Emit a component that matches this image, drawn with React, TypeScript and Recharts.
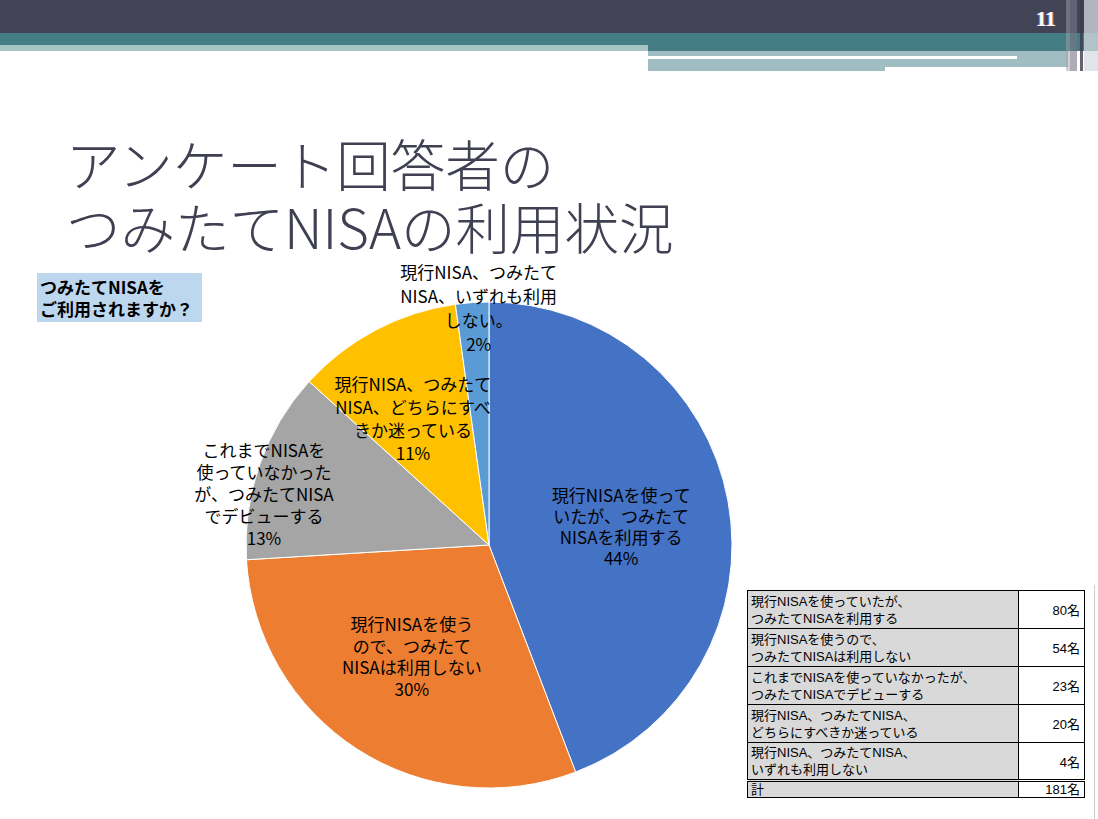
import React from 'react';
import { PieChart, Pie, Cell } from 'recharts';

// survey answers (people)
const categories = [
  '現行NISAを使っていたが、つみたてNISAを利用する',
  '現行NISAを使うので、つみたてNISAは利用しない',
  'これまでNISAを使っていなかったが、つみたてNISAでデビューする',
  '現行NISA、つみたてNISA、どちらにすべきか迷っている',
  '現行NISA、つみたてNISA、いずれも利用しない',
];
const counts = [80, 54, 23, 20, 4];

// labels drawn inside the pie
const sliceLabels = [
  ['現行NISAを使って', 'いたが、つみたて', 'NISAを利用する'],
  ['現行NISAを使う', 'ので、つみたて', 'NISAは利用しない'],
  ['これまでNISAを', '使っていなかった', 'が、つみたてNISA', 'でデビューする'],
  ['現行NISA、つみたて', 'NISA、どちらにすべ', 'きか迷っている'],
  ['現行NISA、つみたて', 'NISA、いずれも利用', 'しない。'],
];

// table rows (two lines each)
const tableRows = [
  ['現行NISAを使っていたが、', 'つみたてNISAを利用する'],
  ['現行NISAを使うので、', 'つみたてNISAは利用しない'],
  ['これまでNISAを使っていなかったが、', 'つみたてNISAでデビューする'],
  ['現行NISA、つみたてNISA、', 'どちらにすべきか迷っている'],
  ['現行NISA、つみたてNISA、', 'いずれも利用しない'],
];

const colors = ['#4472C4', '#ED7D31', '#A5A5A5', '#FFC000', '#5B9BD5'];
// label placement: fraction of radius, angle nudge (deg), line height
const labelPos = [
  { f: 0.55, da: -2, lh: 21 },
  { f: 0.555, da: -2.1, lh: 21.7 },
  { f: 0.95, da: 6.5, lh: 22 },
  { f: 0.61, da: 3, lh: 23 },
  { f: 0.98, da: -1.5, lh: 24 },
];

const data = categories.map((name, i) => ({ name, value: counts[i] }));
const total = counts.reduce((a, b) => a + b, 0);
const RAD = Math.PI / 180;
const jp = '"Noto Sans CJK JP", "Noto Sans", sans-serif';

const renderLabel = (props: any) => {
  const { cx, cy, midAngle, outerRadius, index, value } = props;
  const p = labelPos[index];
  const a = (midAngle + p.da) * RAD;
  const r = outerRadius * p.f;
  const x = cx + r * Math.cos(a);
  const y = cy - r * Math.sin(a);
  const lines = [...sliceLabels[index], `${Math.round((value / total) * 100)}%`];
  const top = y - ((lines.length - 1) * p.lh) / 2;
  return (
    <text x={x} y={top} textAnchor="middle" dominantBaseline="central" fontSize={17} fill="#000" fontFamily={jp}>
      {lines.map((l, k) => (
        <tspan key={k} x={x} y={top + k * p.lh}>
          {l}
        </tspan>
      ))}
    </text>
  );
};

const abs = (s: React.CSSProperties): React.CSSProperties => ({ position: 'absolute', ...s });

export default function App() {
  return (
    <div style={abs({ left: 0, top: 0, width: 1098, height: 819, background: '#fff', overflow: 'hidden', fontFamily: jp })}>
      {/* header bands */}
      <div style={abs({ left: 0, top: 0, width: 1098, height: 33, background: '#424456' })} />
      <div style={abs({ left: 0, top: 33, width: 1098, height: 12, background: '#447E84' })} />
      <div style={abs({ left: 648, top: 45, width: 450, height: 6, background: '#447E84' })} />
      <div style={abs({ left: 0, top: 45, width: 648, height: 6, background: '#A6C3C6' })} />
      <div style={abs({ left: 648, top: 51, width: 420, height: 20, background: '#A0BEC2' })} />
      <div style={abs({ left: 648, top: 56, width: 369, height: 3, background: '#fff' })} />
      <div style={abs({ left: 885, top: 67, width: 191, height: 4, background: '#fff' })} />
      <div style={abs({ left: 1066, top: 0, width: 4, height: 71, background: 'rgba(160,160,170,0.5)' })} />
      <div style={abs({ left: 1070, top: 0, width: 7, height: 71, background: 'rgba(120,118,135,0.6)' })} />
      <div style={abs({ left: 1080, top: 0, width: 3, height: 71, background: 'rgba(60,60,75,0.8)' })} />
      <div style={abs({ left: 1084, top: 0, width: 14, height: 71, background: 'rgba(215,220,225,0.75)' })} />
      <div style={abs({ left: 1036, top: 7, fontFamily: '"Liberation Serif", serif', fontWeight: 700, fontSize: 21, color: '#fff', textShadow: '1px 0 0 #c66, -1px 0 0 #68c' })}>11</div>

      {/* title */}
      <div style={abs({ left: 66, top: 131, fontSize: 54.5, lineHeight: '63px', color: '#3F4052', fontWeight: 300, whiteSpace: 'nowrap' })}>
        アンケート回答者の
        <br />
        つみたてNISAの利用状況
      </div>

      {/* question box */}
      <div style={abs({ left: 37, top: 273, width: 165, height: 49, background: '#BDD7EE', fontSize: 17, fontWeight: 700, lineHeight: '22px', padding: '3px 0 0 3px', boxSizing: 'border-box', color: '#000', whiteSpace: 'nowrap' })}>
        つみたてNISAを
        <br />
        ご利用されますか？
      </div>

      {/* pie */}
      <div style={abs({ left: 0, top: 0 })}>
        <PieChart width={1098} height={819} margin={{ top: 0, right: 0, bottom: 0, left: 0 }}>
          <Pie
            data={data}
            dataKey="value"
            cx={489}
            cy={545}
            outerRadius={243}
            startAngle={90}
            endAngle={-270}
            stroke="#fff"
            strokeWidth={1}
            label={renderLabel}
            labelLine={false}
            isAnimationActive={false}
          >
            {data.map((d, i) => (
              <Cell key={d.name} fill={colors[i]} />
            ))}
          </Pie>
        </PieChart>
      </div>

      {/* count table */}
      <table style={abs({ left: 747, top: 590, width: 338, borderCollapse: 'collapse', fontSize: 13, fontFamily: '"Liberation Sans", ' + jp, color: '#000' })}>
        <tbody>
          {tableRows.map((r, i) => (
            <tr key={i} style={{ height: 38 }}>
              <td style={{ background: '#D9D9D9', border: '1px solid #000', width: 264, padding: '0 3px', lineHeight: '17px', verticalAlign: 'middle' }}>
                {r[0]}
                <br />
                {r[1]}
              </td>
              <td style={{ border: '1px solid #000', textAlign: 'right', padding: '0 4px', verticalAlign: 'middle' }}>{counts[i]}名</td>
            </tr>
          ))}
          <tr style={{ height: 17 }}>
            <td style={{ background: '#D9D9D9', border: '1px solid #000', borderTop: '3px double #000', padding: '0 3px', lineHeight: '15px' }}>計</td>
            <td style={{ border: '1px solid #000', borderTop: '3px double #000', textAlign: 'right', padding: '0 4px', lineHeight: '15px' }}>{total}名</td>
          </tr>
        </tbody>
      </table>
      <div style={abs({ left: 1094, top: 585, width: 1, height: 234, background: '#ccc' })} />
    </div>
  );
}
